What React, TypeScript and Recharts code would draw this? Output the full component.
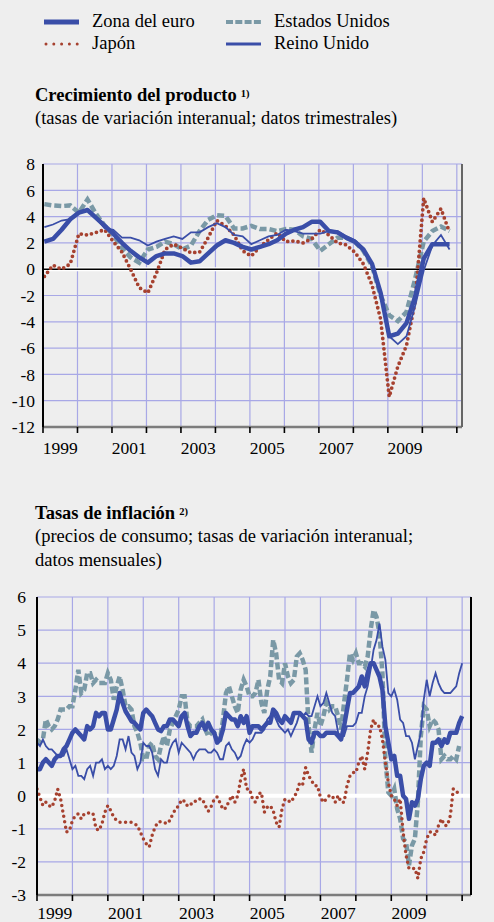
import React from 'react';
import { LineChart, Line, XAxis, YAxis, CartesianGrid, ReferenceLine } from 'recharts';

const FONT = '"Liberation Serif", "Times New Roman", serif';
const BG = '#eeeeee';
const GRID = '#a8a8e6';
const EURO = '#3a4ea8';
const US = '#7a99a6';
const JP = '#a6412f';

// shared x-axis: year boundaries get a tick mark, odd years get a centred label
const yearTicks = [1999, 2000, 2001, 2002, 2003, 2004, 2005, 2006, 2007, 2008, 2009, 2010, 2011];
const yearLabels = [1999, 2001, 2003, 2005, 2007, 2009];

// Crecimiento del producto, quarterly 1999Q1 - 2010Q4
const gdpEuro = [2.1, 2.3, 3.0, 3.8, 4.3, 4.5, 3.9, 3.3, 2.7, 2.0, 1.4, 0.9, 0.5, 1.0, 1.2, 1.2, 1.0, 0.5, 0.6, 1.2, 1.8, 2.2, 2.0, 1.7, 1.5, 1.7, 1.9, 2.2, 2.7, 3.0, 3.2, 3.6, 3.6, 2.9, 2.8, 2.4, 2.1, 1.5, 0.4, -1.8, -5.1, -4.9, -4.1, -2.1, 0.8, 1.9, 1.9, 1.9];
const gdpUS = [4.95, 4.85, 4.8, 4.85, 4.3, 5.3, 4.2, 3.3, 2.6, 1.6, 0.9, 0.5, 1.5, 1.7, 2.1, 1.9, 1.5, 1.8, 2.9, 3.75, 4.1, 4.05, 3.1, 3.1, 3.3, 3.05, 3.05, 2.9, 3.05, 3.0, 2.5, 2.3, 1.4, 1.9, 2.4, 2.4, 2.1, 1.4, 0.25, -2.0, -3.5, -3.95, -3.25, -0.75, 2.1, 2.9, 3.25, 2.9];
const gdpJapan = [-0.55, 0.3, 0.0, 0.4, 2.7, 2.6, 2.8, 3.0, 2.1, 1.3, 0.0, -1.4, -1.8, -0.3, 1.5, 1.9, 1.6, 1.25, 1.3, 2.4, 3.7, 3.3, 2.6, 1.4, 1.0, 1.7, 2.25, 2.75, 2.1, 2.15, 2.0, 2.3, 3.0, 2.6, 2.0, 1.85, 1.3, 0.4, -1.2, -3.8, -9.7, -7.4, -5.8, -2.5, 5.4, 3.6, 4.6, 2.8];
const gdpUK = [3.2, 3.4, 3.7, 3.8, 4.3, 4.5, 3.9, 3.1, 3.0, 2.4, 2.4, 2.2, 1.8, 2.1, 2.3, 2.5, 2.3, 2.8, 2.8, 3.2, 3.5, 3.2, 2.6, 2.5, 1.9, 2.2, 2.5, 2.6, 3.0, 2.9, 2.7, 2.7, 2.7, 2.9, 2.9, 2.5, 2.2, 1.5, 0.3, -1.8, -5.1, -5.7, -5.1, -2.8, -0.1, 1.8, 2.6, 1.5];

// Tasas de inflación, monthly Jan 1999 - Jan 2011
const cpiEuro = [
  0.8, 0.8, 1.0, 1.1, 1.0, 0.9, 1.1, 1.2, 1.2, 1.4, 1.5, 1.7,
  1.9, 2.0, 1.9, 1.8, 1.7, 2.1, 2.0, 2.1, 2.5, 2.4, 2.5, 2.5,
  2.0, 2.0, 2.3, 2.6, 3.1, 2.8, 2.55, 2.4, 2.25, 2.2, 2.1, 2.0,
  2.5, 2.6, 2.5, 2.4, 2.2, 2.0, 1.95, 2.1, 2.1, 2.3, 2.3, 2.2,
  2.1, 2.4, 2.5, 2.1, 1.8, 1.9, 1.9, 2.1, 2.2, 2.0, 2.2, 2.0,
  1.9, 1.6, 1.7, 2.0, 2.5, 2.4, 2.3, 2.3, 2.1, 2.4, 2.2, 2.4,
  1.9, 2.1, 2.1, 2.1, 2.0, 2.1, 2.2, 2.2, 2.6, 2.5, 2.3, 2.2,
  2.4, 2.3, 2.2, 2.5, 2.5, 2.5, 2.4, 2.3, 1.7, 1.6, 1.9, 1.9,
  1.8, 1.8, 1.9, 1.9, 1.9, 1.9, 1.8, 1.7, 2.1, 2.6, 3.1, 3.1,
  3.2, 3.3, 3.6, 3.3, 3.7, 4.0, 4.0, 3.8, 3.6, 3.2, 2.1, 1.6,
  1.1, 1.2, 0.6, 0.6, 0.0, -0.1, -0.7, -0.2, -0.3, -0.1, 0.5, 0.9,
  1.0, 0.9, 1.6, 1.6, 1.7, 1.5, 1.7, 1.6, 1.9, 1.9, 1.9, 2.2,
  2.4,
];
const cpiUS = [
  1.7, 1.6, 1.7, 2.3, 2.1, 2.0, 2.1, 2.3, 2.6, 2.6, 2.6, 2.7,
  2.7, 3.2, 3.8, 3.1, 3.2, 3.7, 3.7, 3.4, 3.5, 3.4, 3.4, 3.4,
  3.7, 3.5, 2.9, 3.3, 3.6, 3.2, 2.7, 2.7, 2.6, 2.1, 1.9, 1.6,
  1.1, 1.1, 1.5, 1.6, 1.2, 1.1, 1.5, 1.8, 1.5, 2.0, 2.2, 2.4,
  2.6, 3.0, 3.0, 2.2, 2.1, 2.1, 2.1, 2.2, 2.3, 2.0, 1.8, 1.9,
  1.9, 1.7, 1.7, 2.3, 3.1, 3.3, 3.0, 2.7, 2.5, 3.2, 3.5, 3.3,
  3.0, 3.0, 3.1, 3.5, 2.8, 2.5, 3.2, 3.6, 4.7, 4.3, 3.5, 3.4,
  4.0, 3.6, 3.4, 3.5, 4.2, 4.3, 4.1, 3.8, 2.1, 1.3, 2.0, 2.5,
  2.1, 2.4, 2.8, 2.6, 2.7, 2.7, 2.4, 2.0, 2.8, 3.5, 4.3, 4.1,
  4.3, 4.0, 4.0, 3.9, 4.2, 5.0, 5.6, 5.4, 4.9, 3.7, 1.1, 0.1,
  0.0, 0.2, -0.4, -0.7, -1.3, -1.4, -2.1, -1.5, -1.3, -0.2, 1.8, 2.7,
  2.6, 2.1, 2.3, 2.2, 2.0, 1.1, 1.2, 1.1, 1.1, 1.2, 1.1, 1.5,
];
const cpiJapan = [
  0.2, -0.05, -0.3, -0.2, -0.3, -0.35, -0.15, 0.2, -0.1, -0.6, -1.1, -1.05,
  -0.75, -0.6, -0.55, -0.7, -0.55, -0.55, -0.5, -0.55, -1.0, -1.05, -0.85, -0.5,
  -0.3, -0.45, -0.65, -0.75, -0.8, -0.8, -0.8, -0.8, -0.8, -0.85, -0.9, -1.1,
  -1.3, -1.45, -1.55, -1.2, -0.95, -0.8, -0.78, -0.8, -0.85, -0.75, -0.55, -0.4,
  -0.3, -0.12, -0.17, -0.32, -0.25, -0.25, -0.12, -0.1, -0.1, -0.3, -0.47, -0.32,
  -0.12, -0.04, -0.22, -0.42, -0.37, -0.17, 0.0, -0.2, 0.0, 0.5, 0.8, 0.2,
  0.2, -0.1, -0.2, 0.05, 0.1, -0.5, -0.35, -0.3, -0.45, -0.8, -0.95, -0.4,
  -0.1, -0.15, -0.2, -0.05, 0.1, 0.4, 0.35, 0.85, 0.6, 0.45, 0.3, 0.3,
  -0.05, -0.2, -0.1, 0.0, 0.0, -0.2, 0.0, -0.2, -0.2, 0.3, 0.6, 0.7,
  0.7, 1.0, 1.2, 0.8, 1.3, 2.0, 2.3, 2.1, 2.1, 1.7, 1.0, 0.4,
  0.0, -0.1, -0.3, -0.1, -1.1, -1.8, -2.2, -2.2, -2.2, -2.5, -1.9, -1.7,
  -1.3, -1.1, -1.1, -1.2, -0.9, -0.7, -0.9, -0.9, -0.6, 0.2, 0.1, 0.1,
];
const cpiUK = [
  1.6, 1.5, 1.7, 1.5, 1.4, 1.4, 1.3, 1.2, 1.2, 1.2, 1.4, 1.1,
  0.8, 0.9, 0.6, 0.6, 0.5, 0.8, 0.9, 0.6, 1.0, 1.0, 1.1, 0.8,
  0.9, 0.8, 0.9, 1.2, 1.7, 1.7, 1.4, 1.8, 1.3, 1.2, 0.8, 1.0,
  1.6, 1.5, 1.5, 1.3, 0.8, 0.6, 1.1, 1.0, 1.0, 1.4, 1.6, 1.7,
  1.3, 1.6, 1.5, 1.4, 1.3, 1.1, 1.3, 1.4, 1.4, 1.4, 1.3, 1.3,
  1.4, 1.3, 1.1, 1.1, 1.5, 1.6, 1.4, 1.3, 1.1, 1.2, 1.5, 1.7,
  1.6, 1.7, 1.9, 1.9, 1.9, 2.0, 2.3, 2.4, 2.5, 2.3, 2.1, 2.0,
  1.9, 2.0, 1.8, 2.0, 2.2, 2.5, 2.4, 2.5, 2.4, 2.4, 2.7, 3.0,
  2.7, 2.8, 3.1, 2.8, 2.5, 2.4, 1.9, 1.8, 1.8, 2.1, 2.1, 2.1,
  2.2, 2.5, 2.5, 3.0, 3.3, 3.8, 4.4, 4.7, 5.2, 4.5, 4.1, 3.1,
  3.0, 3.2, 2.9, 2.3, 2.2, 1.8, 1.8, 1.6, 1.1, 1.5, 1.9, 2.9,
  3.5, 3.0, 3.4, 3.7, 3.4, 3.2, 3.1, 3.1, 3.1, 3.2, 3.3, 3.7,
  4.0,
];

const gdpTicks = [-12, -10, -8, -6, -4, -2, 0, 2, 4, 6, 8];
const cpiTicks = [-3, -2, -1, 0, 1, 2, 3, 4, 5, 6];

const gdpData = gdpEuro.map((v, i) => ({
  t: 1999 + i / 4 + 0.04,
  euro: v,
  us: gdpUS[i],
  jp: gdpJapan[i],
  uk: gdpUK[i],
}));

const cpiData = cpiEuro.map((v, i) => ({
  t: 1999 + i / 12,
  euro: v,
  us: cpiUS[i] ?? null,
  jp: cpiJapan[i] ?? null,
  uk: cpiUK[i],
}));

// one x axis carries both the boundary marks and the mid-year labels
const xTicks = [...yearTicks, ...yearLabels.map((y) => y + 0.5)].sort((a, b) => a - b);

const tickFont = { fontFamily: FONT, fontSize: 17.5, fill: '#000' };
const textStyle: React.CSSProperties = { fontFamily: FONT, fontSize: 18.5, color: '#000', lineHeight: '23px', whiteSpace: 'nowrap' };

const YearTick = (props: any) => {
  const { x, y, payload, dy } = props;
  const v = payload.value;
  if (Number.isInteger(v)) {
    return <line x1={x} x2={x} y1={y} y2={y + 6} stroke="#000" strokeWidth={1.6} />;
  }
  return (
    <text x={x} y={y + dy} textAnchor="middle" style={{ fontFamily: FONT, fontSize: 17.5 }} fill="#000">
      {Math.floor(v)}
    </text>
  );
};

function Panel(props: {
  data: any[];
  top: number;
  height: number;
  margin: { top: number; right: number; bottom: number; left: number };
  xMax: number;
  yTicks: number[];
  axisH: number;
  leftW: number;
  rightW: number;
  leftGap: number;
  rightGap: number;
  rightStroke: string;
  labelDy: number;
  blackZero: boolean;
  dotW: number;
  dotGap: string;
}) {
  const { data, top, height, margin, xMax, yTicks, axisH, leftW, rightW, leftGap, rightGap, rightStroke, labelDy, blackZero, dotW, dotGap } = props;
  const domain: [number, number] = [1999, xMax];
  const yDomain: [number, number] = [yTicks[0], yTicks[yTicks.length - 1]];
  return (
    <div style={{ position: 'absolute', left: 0, top, fontFamily: FONT }}>
      <LineChart width={494} height={height} data={data} margin={margin} style={{ fontFamily: FONT }}>
        <CartesianGrid yAxisId="l" vertical={false} stroke={GRID} strokeWidth={1.2} />
        {yearTicks.slice(1).map((yr) => (
          <ReferenceLine key={yr} yAxisId="l" x={yr} stroke={GRID} strokeWidth={1.2} />
        ))}
        <XAxis
          dataKey="t"
          type="number"
          domain={domain}
          ticks={xTicks}
          interval={0}
          allowDataOverflow
          height={axisH}
          axisLine={{ stroke: '#7c7c7c', strokeWidth: 2.5 }}
          tickLine={false}
          tickSize={0}
          tickMargin={0}
          tick={(p: any) => <YearTick {...p} dy={labelDy} />}
        />
        <YAxis
          yAxisId="l"
          domain={yDomain}
          ticks={yTicks}
          interval={0}
          width={leftW}
          axisLine={{ stroke: '#000', strokeWidth: 2 }}
          tickLine={false}
          tickSize={0}
          tickMargin={leftGap}
          tick={{ ...tickFont, style: { fontFamily: FONT } }}
        />
        <YAxis
          yAxisId="r"
          orientation="right"
          domain={yDomain}
          ticks={yTicks}
          interval={0}
          width={rightW}
          axisLine={{ stroke: rightStroke, strokeWidth: 2 }}
          tickLine={false}
          tickSize={0}
          tickMargin={rightGap}
          tick={{ ...tickFont, textAnchor: 'start', style: { fontFamily: FONT } }}
        />
        <ReferenceLine yAxisId="l" y={0} stroke="#ffffff" strokeWidth={4} />
        {blackZero && <ReferenceLine yAxisId="l" y={0} stroke="#000" strokeWidth={1.5} />}
        <Line yAxisId="l" type="linear" dataKey="us" stroke={US} strokeWidth={4.5} strokeDasharray="7 3" dot={false} activeDot={false} isAnimationActive={false} />
        <Line yAxisId="l" type="linear" dataKey="jp" stroke={JP} strokeWidth={dotW} strokeDasharray={dotGap} strokeLinecap="round" dot={false} activeDot={false} isAnimationActive={false} />
        <Line yAxisId="l" type="linear" dataKey="euro" stroke={EURO} strokeWidth={4.5} strokeLinejoin="round" dot={false} activeDot={false} isAnimationActive={false} />
        <Line yAxisId="l" type="linear" dataKey="uk" stroke={EURO} strokeWidth={1.8} dot={false} activeDot={false} isAnimationActive={false} />
      </LineChart>
    </div>
  );
}

function LegendItem({ x, y, kind, label }: { x: number; y: number; kind: string; label: string }) {
  let sample: React.ReactNode = null;
  if (kind === 'euro') sample = <line x1={0} x2={35} y1={6} y2={6} stroke={EURO} strokeWidth={5} />;
  if (kind === 'uk') sample = <line x1={0} x2={35} y1={6} y2={6} stroke={EURO} strokeWidth={3.2} />;
  if (kind === 'us') sample = <line x1={0} x2={35} y1={6} y2={6} stroke={US} strokeWidth={4} strokeDasharray="7 2.3" />;
  if (kind === 'jp') sample = <line x1={2} x2={35} y1={6} y2={6} stroke={JP} strokeWidth={3} strokeDasharray="0 7.8" strokeLinecap="round" />;
  return (
    <>
      <svg width={36} height={12} style={{ position: 'absolute', left: x, top: y - 6 }}>{sample}</svg>
      <div style={{ ...textStyle, position: 'absolute', left: x + 48, top: y - 12 }}>{label}</div>
    </>
  );
}

export default function App() {
  return (
    <div style={{ position: 'absolute', left: 0, top: 0, width: 494, height: 922, background: BG, overflow: 'hidden', fontFamily: FONT }}>
      <LegendItem x={44} y={22} kind="euro" label="Zona del euro" />
      <LegendItem x={44} y={44} kind="jp" label="Japón" />
      <LegendItem x={226} y={22} kind="us" label="Estados Unidos" />
      <LegendItem x={226} y={44} kind="uk" label="Reino Unido" />

      <div style={{ ...textStyle, position: 'absolute', left: 35, top: 84, fontWeight: 'bold' }}>
        Crecimiento del producto
        <span style={{ fontSize: 10.5, position: 'relative', top: -4, marginLeft: 4 }}>1)</span>
      </div>
      <div style={{ ...textStyle, position: 'absolute', left: 35, top: 107 }}>
        (tasas de variación interanual; datos trimestrales)
      </div>

      <Panel
        data={gdpData}
        top={140}
        height={330}
        margin={{ top: 24, right: 0, bottom: 10, left: 0 }}
        xMax={2011.15}
        yTicks={gdpTicks}
        axisH={33}
        leftW={43}
        rightW={32}
        leftGap={8}
        rightGap={10}
        rightStroke="#666"
        labelDy={27}
        blackZero
        dotW={3.8}
        dotGap="0 5.2"
      />

      <div style={{ ...textStyle, position: 'absolute', left: 35, top: 502, fontWeight: 'bold' }}>
        Tasas de inflación
        <span style={{ fontSize: 10.5, position: 'relative', top: -4, marginLeft: 4 }}>2)</span>
      </div>
      <div style={{ ...textStyle, position: 'absolute', left: 35, top: 525, lineHeight: '23.5px' }}>
        (precios de consumo; tasas de variación interanual;
        <br />
        datos mensuales)
      </div>

      <Panel
        data={cpiData}
        top={566}
        height={356}
        margin={{ top: 31, right: 0, bottom: 0, left: 0 }}
        xMax={2011.25}
        yTicks={cpiTicks}
        axisH={27}
        leftW={37}
        rightW={23}
        leftGap={11}
        rightGap={6}
        rightStroke="#000"
        labelDy={24}
        blackZero={false}
        dotW={3.5}
        dotGap="0 5.5"
      />
    </div>
  );
}
